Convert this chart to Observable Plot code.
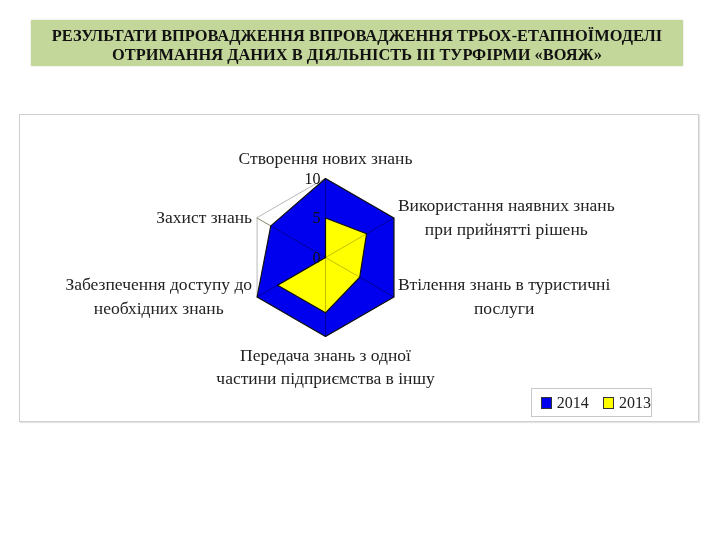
<!DOCTYPE html>
<html>
<head>
<meta charset="utf-8">
<script src="https://cdn.jsdelivr.net/npm/d3@7"></script>
<script src="https://cdn.jsdelivr.net/npm/@observablehq/plot@0.6"></script>
<style>
  body { margin:0; width:720px; height:540px; background:#fff; position:relative; overflow:hidden;
         font-family:"Liberation Serif","Times New Roman",serif; }
  #title { position:absolute; left:31px; top:20px; width:652px; height:46px; background:#c4d79b;
           box-shadow:0 0 2px #d8d8d8; display:flex; align-items:center; justify-content:center;
           text-align:center; font-weight:bold; font-size:16.4px; line-height:19px; color:#111;
           box-sizing:border-box; padding-top:4px; }
  #frame { position:absolute; left:19px; top:114px; width:678px; height:306px; border:1px solid #cfcfcf;
           box-shadow:1px 1px 1px #e6e6e6; }
  #chart { position:absolute; left:20px; top:115px; }
  #legend { position:absolute; left:531px; top:388px; width:119px; height:27px; border:1px solid #c8c8c8;
            font-size:16px; color:#222; display:flex; align-items:center; }
  .sw { display:inline-block; width:10px; height:10px; border:1px solid #333; margin-left:9px; margin-right:5px; }
</style>
</head>
<body>
<div id="title"></div>
<div id="frame"></div>
<div id="chart"></div>
<div id="legend"></div>
<script>
const titleLines = ["РЕЗУЛЬТАТИ ВПРОВАДЖЕННЯ ВПРОВАДЖЕННЯ ТРЬОХ-ЕТАПНОЇМОДЕЛІ",
                    "ОТРИМАННЯ ДАНИХ В ДІЯЛЬНІСТЬ ІІІ ТУРФІРМИ «ВОЯЖ»"];
const categories = [
  "Створення нових знань",
  "Використання наявних знань\nпри прийнятті рішень",
  "Втілення знань в туристичні\nпослуги",
  "Передача знань з одної\nчастини підприємства в іншу",
  "Забезпечення доступу до\nнеобхідних знань",
  "Захист знань"
];
const seriesNames = ["2014", "2013"];
const values2014 = [10, 10, 10, 10, 10, 8];
const values2013 = [5, 6, 5, 7, 7, 0];
const tickValues = [0, 5, 10];
const maxValue = 10;
const seriesColors = {"2014": "#0000ee", "2013": "#ffff00"};

// title & legend
document.getElementById("title").innerHTML = titleLines.join("<br>");
document.getElementById("legend").innerHTML = seriesNames.map(s =>
  `<span class="sw" style="background:${seriesColors[s]}"></span><span>${s}</span>`).join("<span style='width:6px'></span>");

// radar geometry helpers
const n = categories.length;
const angle = i => (2 * Math.PI * i) / n;
const toXY = (v, i) => ({x: v * Math.sin(angle(i)), y: v * Math.cos(angle(i))});

const polys = [];
seriesNames.forEach((s, si) => {
  const vals = si === 0 ? values2014 : values2013;
  vals.forEach((v, i) => polys.push({series: s, i, ...toXY(v, i)}));
});
const outer = categories.map((c, i) => ({i, ...toXY(maxValue, i)}));
const spokes = categories.flatMap((c, i) => [{i, x: 0, y: 0}, {i, ...toXY(maxValue, i)}]);
const ticks = tickValues.map(v => ({v, ...toXY(v, 0)}));

const W = 677, H = 305, cx = 305, cy = 142, k = 7.9;
const fontSize = 17.5;
const ctx = document.createElement("canvas").getContext("2d");
ctx.font = `${fontSize}px "Liberation Serif"`;
const halfWidth = label => Math.max(...label.split("\n").map(t => ctx.measureText(t).width)) / 2;

const labelMarks = categories.map((c, i) => {
  const s = Math.sin(angle(i)), co = Math.cos(angle(i));
  const p = toXY(maxValue, i);
  let opts = {x: "x", y: "y", text: "label", fontSize, lineHeight: 1.37, fill: "#222", textAnchor: "middle"};
  if (s > 0.1) { opts.dx = 4 + halfWidth(c); opts.dy = -3; opts.lineAnchor = "middle"; }
  else if (s < -0.1) { opts.dx = -5 - halfWidth(c); opts.dy = -3; opts.lineAnchor = "middle"; }
  else if (co > 0) { opts.dy = -15; opts.lineAnchor = "bottom"; }
  else { opts.dy = 7; opts.lineAnchor = "top"; }
  return Plot.text([{label: c, ...p}], opts);
});

const chart = Plot.plot({
  width: W, height: H, margin: 0,
  x: {domain: [-cx / k, (W - cx) / k], axis: null},
  y: {domain: [-(H - cy) / k, cy / k], axis: null},
  style: {fontFamily: '"Liberation Serif","Times New Roman",serif', background: "transparent", overflow: "visible"},
  marks: [
    Plot.line(outer, {x: "x", y: "y", curve: "linear-closed", stroke: "#b8b8b8", strokeWidth: 1}),
    Plot.line(spokes, {x: "x", y: "y", z: "i", stroke: "#b8b8b8", strokeWidth: 1}),
    Plot.line(polys.filter(d => d.series === "2014"), {x: "x", y: "y", curve: "linear-closed",
      fill: seriesColors["2014"], stroke: "#111", strokeWidth: 1.2}),
    Plot.line(polys.filter(d => d.series === "2013"), {x: "x", y: "y", curve: "linear-closed",
      fill: seriesColors["2013"], stroke: "#111", strokeWidth: 1.2}),
    Plot.line(spokes, {x: "x", y: "y", z: "i", stroke: "#c0c0a0", strokeWidth: 1, mixBlendMode: "multiply"}),
    Plot.text(ticks, {x: "x", y: "y", text: d => String(d.v), textAnchor: "end", dx: -5, fontSize: 16, fill: "#111"}),
    ...labelMarks
  ]
});
document.getElementById("chart").appendChild(chart);
</script>
</body>
</html>
